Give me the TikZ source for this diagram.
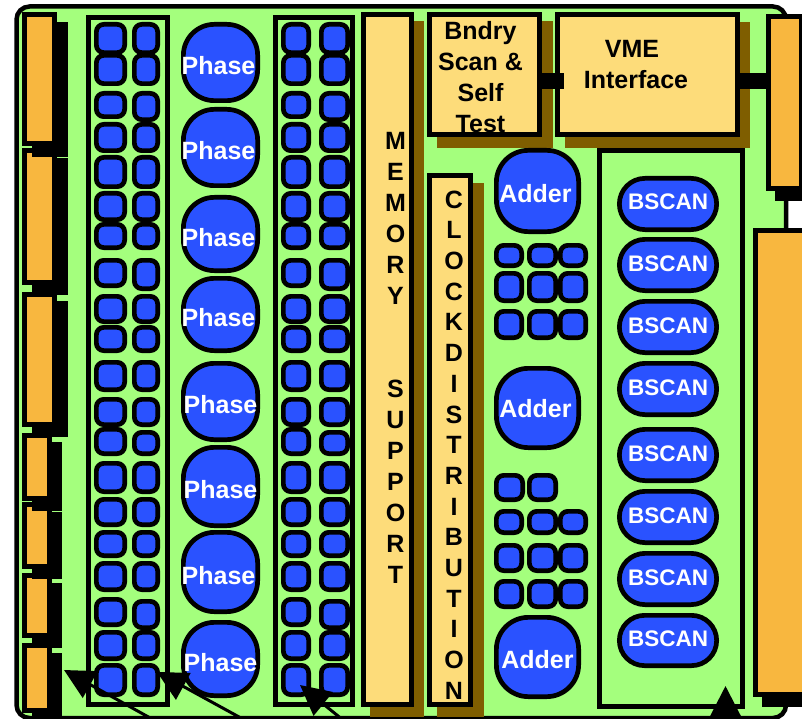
\documentclass[tikz,border=0pt]{standalone}
\usepackage{fontspec}
\setmainfont{Liberation Sans}
\usetikzlibrary{arrows.meta,shapes.misc}
\definecolor{boardgreen}{HTML}{A4FF7D}
\definecolor{chipblue}{HTML}{2A52FF}
\definecolor{padorange}{HTML}{F8B73F}
\definecolor{paleyellow}{HTML}{FDDC7A}
\definecolor{shadowbrown}{HTML}{7F5E00}
\newcommand{\bxnode}[7]{%
  \pgfmathsetmacro{\bxcx}{(#3+#5)/2}%
  \pgfmathsetmacro{\bxcy}{(#4+#6)/2}%
  \pgfmathsetmacro{\bxw}{#5-#3-4.7}%
  \pgfmathsetmacro{\bxh}{#6-#4-4.7}%
  \node[#1,minimum width=\bxw pt,minimum height=\bxh pt] (#2) at (\bxcx,\bxcy) {#7};}
\newcommand{\shd}[5]{\fill[#1] (#2,#3) rectangle (#4,#5);}
\newcommand{\ctext}[2]{\makebox[50pt][c]{#1\hspace*{#2pt}}}
\tikzset{
  base/.style={draw=black,line width=4.7pt,inner sep=0pt,outer sep=0pt},
  cell/.style={base,fill=chipblue,rounded corners=7.5pt},
  phasebox/.style={base,fill=chipblue,rounded corners=31pt,text=white,font=\bfseries\fontsize{25}{25}\selectfont,text height=24pt,text depth=0pt},
  adderbox/.style={base,fill=chipblue,rounded corners=32pt,text=white,font=\bfseries\fontsize{25}{25}\selectfont,text depth=0pt},
  bscanbox/.style={base,fill=chipblue,rounded rectangle,text=white,font=\bfseries\fontsize{22.5}{22.5}\selectfont,text height=12pt,text depth=0pt},
  frame/.style={base,fill=boardgreen},
  orangebox/.style={base,fill=padorange},
  palebox/.style={base,fill=paleyellow,align=center},
  lbl/.style={font=\bfseries\fontsize{25}{31}\selectfont,align=center,inner sep=0pt,text=black},
  clbl/.style={font=\bfseries\fontsize{25}{30.7}\selectfont,align=center,inner sep=0pt,text=black},
  bar/.style={draw=black,line width=16pt},
  pointer/.style={draw=black,line width=3pt,-{Triangle[length=30pt,width=30pt]}},
}
\begin{document}
\begin{tikzpicture}[x=1pt,y=-1pt]
\useasboundingbox (0,0) rectangle (802,719);
\clip (0,0) rectangle (802,719);
\fill[white] (0,0) rectangle (802,719);
\draw[draw=black,fill=boardgreen,line width=4.5pt,rounded corners=13pt] (16.5,6.5) rectangle (786,718);
% left pads, bottom first
\shd{black}{32}{653}{62}{723}\bxnode{orangebox}{padG}{22}{643}{52}{713}{}
\shd{black}{32}{583}{62}{648}\bxnode{orangebox}{padF}{22}{573}{52}{638}{}
\shd{black}{32}{512}{62}{579}\bxnode{orangebox}{padE}{22}{502}{52}{569}{}
\shd{black}{32}{442}{62}{511}\bxnode{orangebox}{padD}{22}{433}{52}{501}{}
\shd{black}{32}{301}{68}{437}\bxnode{orangebox}{padC}{22}{292}{57}{427}{}
\shd{black}{32}{158}{68}{295}\bxnode{orangebox}{padB}{22}{148}{57}{285}{}
\shd{black}{32}{22}{68}{157}\bxnode{orangebox}{padA}{22}{12}{57}{146}{}
% right pads
\shd{black}{775}{24}{812}{201}\bxnode{orangebox}{padR}{766}{14}{804}{191}{}
\shd{black}{762}{238}{812}{707}\bxnode{orangebox}{padS}{753}{228}{812}{697}{}
% chip columns
\bxnode{frame}{frameL}{86}{15}{170}{707}{}
\bxnode{frame}{frameR}{273}{15}{355}{707}{}
\foreach \ya/\yb [count=\i] in {22/55,53/86,91/119,122/153,155/189,191/222,222/250,258/288,294/324,325/353,360/392,397/427,427/456,461/494,497/527,530/558,561/592,597/627,630/661,663/697}{
  \bxnode{cell}{La\i}{94}{\ya}{127}{\yb}{}
  \bxnode{cell}{Ra\i}{281}{\ya}{311}{\yb}{}
}
\foreach \ya/\yb [count=\i] in {22/55,53/86,91/122,122/153,155/189,191/222,222/250,258/291,294/324,325/353,360/392,397/427,430/456,461/494,497/527,530/558,561/592,599/630,630/661,663/697}{
  \bxnode{cell}{Lb\i}{132}{\ya}{160}{\yb}{}
  \bxnode{cell}{Rb\i}{319}{\ya}{350}{\yb}{}
}
% phases
\foreach \ya/\yb/\pad [count=\i] in {22/103/4,107/188/4,195/273/4,276/353/4,361/442/0,445/528/0,530/614/4,620/698/0}{
  \bxnode{phasebox}{phase\i}{181}{\ya}{260}{\yb}{\ctext{Phase}{\pad}}
}
% memory, clock, bndry, vme
\shd{shadowbrown}{370}{21}{424}{717}\bxnode{palebox}{memory}{361}{12}{414}{707}{}
\shd{shadowbrown}{437}{183}{484}{717}\bxnode{palebox}{clock}{427}{173}{473}{707}{}
\shd{shadowbrown}{437}{21}{553}{148}\bxnode{palebox}{bndry}{427}{12}{542}{137}{}
\shd{shadowbrown}{565}{22}{750}{148}\bxnode{palebox}{vme}{555}{12}{740}{137}{}
\node[lbl] (memtext) at (395.5,357.5) {M\\E\\M\\O\\R\\Y\\ \\ \\S\\U\\P\\P\\O\\R\\T};
\node[clbl] (clocktext) at (454,445) {C\\L\\O\\C\\K\\D\\I\\S\\T\\R\\I\\B\\U\\T\\I\\O\\N};
\node[lbl] (bndrytext) at (480.5,77) {Bndry\\Scan \&\\Self\\Test};
\node[lbl] (vmetext) at (636,65) {VME\hspace*{8pt}\\Interface};
% connectors
\coordinate (bvend) at (564,81);
\coordinate (vpend) at (768,81);
\draw[bar] (bndry.east |- bvend) -- (bvend);
\draw[bar] (vme.east |- vpend) -- (vpend);
% adders
\bxnode{adderbox,text height=24pt}{adder1}{494}{148}{581}{234}{\ctext{Adder}{4}}
\bxnode{adderbox,text height=18pt}{adder2}{494}{366}{581}{450}{\ctext{Adder}{4}}
\bxnode{adderbox,text height=22pt}{adder3}{494}{615}{581}{699}{\ctext{Adder}{0}}
% adder cells
\foreach \ya/\yb [count=\i] in {243/268,271/303,309/340,509/535,543/573,579/609}{
  \bxnode{cell}{Ma\i}{494}{\ya}{524}{\yb}{}
  \bxnode{cell}{Mb\i}{527}{\ya}{558}{\yb}{}
  \bxnode{cell}{Mc\i}{558}{\ya}{588}{\yb}{}
}
\bxnode{cell}{Ma0}{494}{473}{525}{502}{}
\bxnode{cell}{Mb0}{527}{473}{558}{502}{}
% bscan
\bxnode{frame}{frameB}{597}{148}{745}{709}{}
\foreach \ya/\yb [count=\i] in {176/232,237/293,299/355,361/417,427/483,489/545,551/607,613/668}{
  \bxnode{bscanbox}{bscan\i}{617}{\ya}{719}{\yb}{BSCAN}
}
% pointers
\coordinate (t1) at (64,670);  \coordinate (s1) at (170,729);
\coordinate (t2) at (157,672); \coordinate (s2) at (261,729);
\coordinate (t3) at (300,685); \coordinate (s3) at (354,729);
\coordinate (t4) at (725.5,686); \coordinate (s4) at (725.5,735);
\draw[pointer] (s1) -- (t1);
\draw[pointer] (s2) -- (t2);
\draw[pointer] (s3) -- (t3);
\draw[pointer] (s4) -- (t4);
\end{tikzpicture}
\end{document}
